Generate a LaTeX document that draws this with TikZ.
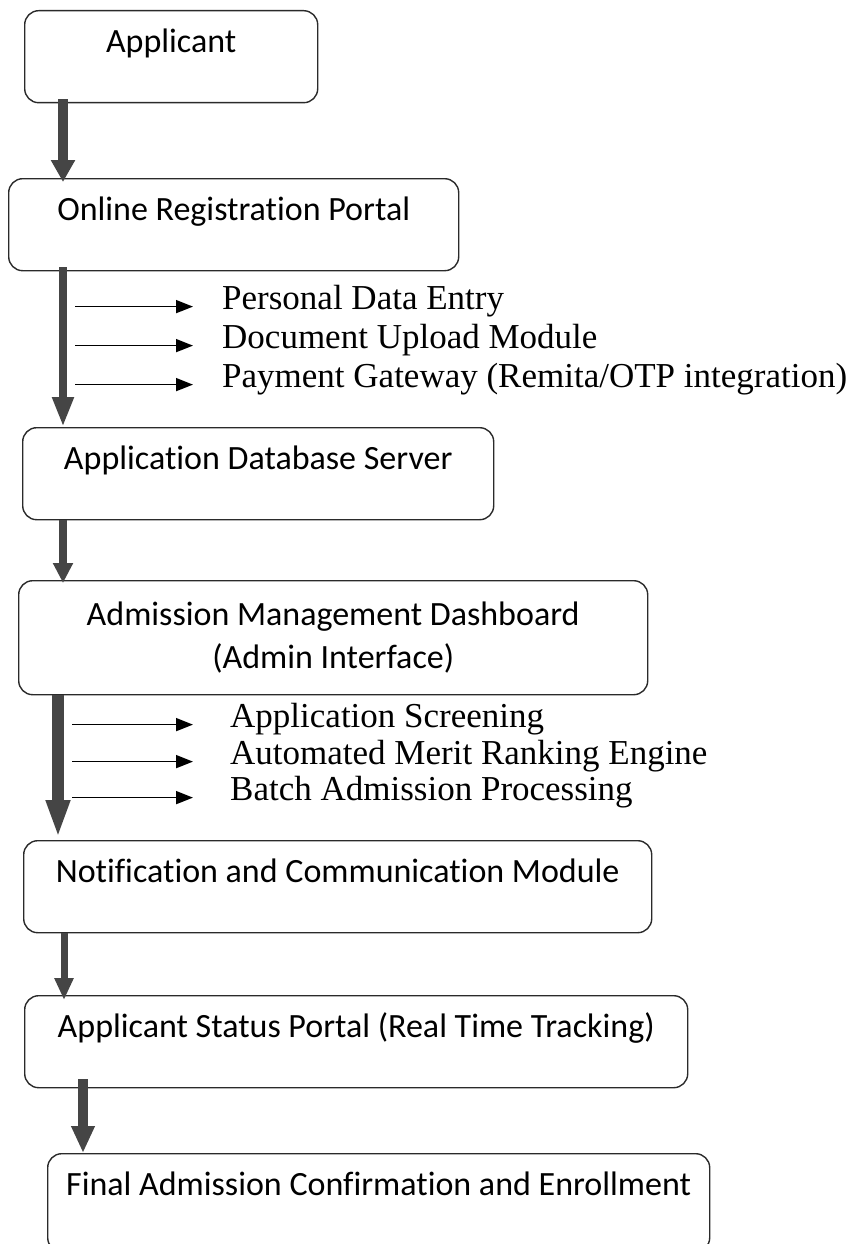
\documentclass[tikz,border=0pt]{standalone}
\usepackage{fontspec}
\setmainfont{Carlito}[Ligatures=NoCommon]
\newfontfamily\listfont{Liberation Serif}
\usetikzlibrary{arrows.meta,positioning,calc}
\definecolor{arrowgray}{HTML}{454545}
\definecolor{boxline}{HTML}{2A2A2A}

\begin{document}
\begin{tikzpicture}[x=1pt,y=-1pt,
    stage/.style={draw=boxline, line width=1.4pt, rounded corners=14pt,
        inner xsep=0pt, inner ysep=0pt, anchor=north west,
        font=\fontsize{34}{43}\selectfont},
    toptext/.style={text height=42pt, text depth=50pt},
    item/.style={inner sep=0pt, anchor=base west,
        font=\listfont\fontsize{35}{40}\selectfont},
    bigarrow/.style={draw=arrowgray, line width=9pt,
        -{Triangle[width=21pt,length=22pt]}},
    smallarrow/.style={draw=black, line width=1.6pt,
        -{Triangle[width=13pt,length=17pt]}}]

    \useasboundingbox (0,0) rectangle (865,1244);

    % Boxes
    \node[stage, toptext, minimum width=293pt] (applicant) at (24,10) {Applicant};
    \node[stage, toptext, minimum width=450pt] (portal) at (8,178) {Online Registration Portal};
    \node[stage, toptext, minimum width=471pt] (database) at (22,427) {Application Database Server};
    \node[stage, align=center, minimum width=629pt, minimum height=114pt] (dashboard) at (18,580)
        {Admission Management Dashboard\\(Admin Interface)};
    \node[stage, toptext, minimum width=628pt] (notify) at (23,840) {Notification and Communication Module};
    \node[stage, toptext, minimum width=663pt] (status) at (24,995) {Applicant Status Portal (Real Time Tracking)};
    \node[stage, toptext, minimum width=662pt, text depth=56pt] (final) at (47,1153)
        {Final Admission Confirmation and Enrollment};

    % Registration steps
    \node[item] (personal) at (222,309) {Personal Data Entry};
    \node[item] (upload) at (222,348) {Document Upload Module};
    \node[item] (payment) at (222,387) {Payment Gateway (Remita/OTP integration)};

    % Dashboard steps
    \node[item] (screening) at (230,727) {Application Screening};
    \node[item] (merit) at (230,764) {Automated Merit Ranking Engine};
    \node[item] (batch) at (230,800) {Batch Admission Processing};

    % Main flow
    \draw[bigarrow, line width=10pt, -{Triangle[width=23pt,length=22pt]}]
        ([xshift=39pt,yshift=4pt]applicant.south west) -- ([xshift=55pt,yshift=-4pt]portal.north west);
    \draw[bigarrow, line width=8pt, -{Triangle[width=20pt,length=30pt]}]
        ([xshift=55pt,yshift=4pt]portal.south west) -- ([xshift=41pt]database.north west);
    \draw[bigarrow, line width=8pt, -{Triangle[width=19pt,length=20pt]}]
        ([xshift=41pt]database.south west) -- ([xshift=45pt,yshift=-3pt]dashboard.north west);
    \draw[bigarrow, line width=12pt, -{Triangle[width=22pt,length=38pt]}]
        ([xshift=40pt]dashboard.south west) -- ([xshift=35pt,yshift=2pt]notify.north west);
    \draw[bigarrow, line width=7pt, -{Triangle[width=18pt,length=22pt]}]
        ([xshift=41pt]notify.south west) -- ([xshift=40pt,yshift=-5pt]status.north west);
    \draw[bigarrow, line width=10pt, -{Triangle[width=22pt,length=27pt]}]
        ([xshift=59pt,yshift=9pt]status.south west) -- ([xshift=36pt]final.north west);

    % Side arrows
    \foreach \step in {personal,upload,payment}
        \draw[smallarrow] ([xshift=-147pt]\step.mid west) -- ([xshift=-29pt]\step.mid west);
    \foreach \step in {screening,merit,batch}
        \draw[smallarrow] ([xshift=-158pt]\step.mid west) -- ([xshift=-37pt]\step.mid west);

\end{tikzpicture}
\end{document}
